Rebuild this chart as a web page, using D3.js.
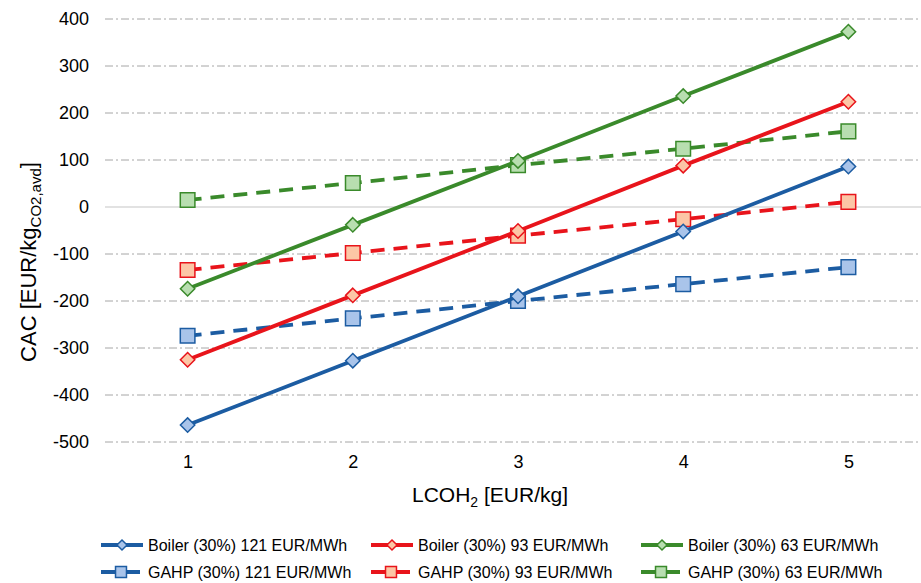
<!DOCTYPE html>
<html><head><meta charset="utf-8">
<script src="https://cdn.jsdelivr.net/npm/d3@7"></script>
<style>body{margin:0;background:#fff;} svg{display:block;font-family:"Liberation Sans",Arial,sans-serif;}</style>
</head><body>
<svg id="c" width="921" height="583"></svg>
<script>
const xValues = [1, 2, 3, 4, 5];
const yTicks = [400, 300, 200, 100, 0, -100, -200, -300, -400, -500];
const seriesNames = ["Boiler (30%) 121 EUR/MWh","Boiler (30%) 93 EUR/MWh","Boiler (30%) 63 EUR/MWh",
                     "GAHP (30%) 121 EUR/MWh","GAHP (30%) 93 EUR/MWh","GAHP (30%) 63 EUR/MWh"];
const boiler121 = [-464, -327, -190, -52, 86];
const boiler93  = [-325, -188, -51, 88, 224];
const boiler63  = [-174, -38, 98, 236, 373];
const gahp121   = [-274, -237, -200, -164, -128];
const gahp93    = [-134, -98, -61, -26, 11];
const gahp63    = [15, 51, 89, 124, 161];
const seriesValues = [boiler121, boiler93, boiler63, gahp121, gahp93, gahp63];
const lineColors = ["#1c5ca2", "#e8141b", "#3a8a2b"];
const fillColors = ["#a9c4ea", "#fcc6a6", "#b8deb0"];

const svg = d3.select("#c");
const x = d3.scaleLinear().domain([0.5, 5.5]).range([105, 931]);
const y = d3.scaleLinear().domain([-500, 400]).range([442, 19]);

// gridlines
const grid = svg.append("g");
yTicks.forEach(t => {
  grid.append("line").attr("x1", 105).attr("x2", 921).attr("y1", y(t)).attr("y2", y(t))
    .attr("stroke", t === 0 ? "#d9d9d9" : "#a6a6a6")
    .attr("stroke-width", t === 0 ? 1.5 : 1)
    .attr("stroke-dasharray", t === 0 ? null : "8,3,2,3");
});

// y axis labels
const yAxis = d3.axisLeft(y).tickValues(yTicks).tickSize(0).tickPadding(0).tickFormat(d => String(d));
const ya = svg.append("g").attr("transform", "translate(89,0)").call(yAxis);
ya.select(".domain").remove();
ya.selectAll("text").attr("font-size", 18).attr("fill", "#000").attr("font-family", "Liberation Sans, Arial, sans-serif");

// x axis labels
const xAxis = d3.axisBottom(x).tickValues(xValues).tickSize(0).tickPadding(0).tickFormat(d => String(d));
const xa = svg.append("g").attr("transform", "translate(0,455)").call(xAxis);
xa.select(".domain").remove();
xa.selectAll("text").attr("font-size", 18).attr("fill", "#000").attr("font-family", "Liberation Sans, Arial, sans-serif");

// axis titles
const xt = svg.append("text").attr("x", 490).attr("y", 502).attr("text-anchor", "middle")
  .attr("font-size", 21).attr("fill", "#000");
xt.append("tspan").text("LCOH");
xt.append("tspan").attr("font-size", 14).attr("dy", 5).text("2");
xt.append("tspan").attr("dy", -5).text(" [EUR/kg]");

const yt = svg.append("text").attr("transform", "translate(36,262) rotate(-90)").attr("text-anchor", "middle")
  .attr("font-size", 22).attr("fill", "#000");
yt.append("tspan").text("CAC [EUR/kg");
yt.append("tspan").attr("font-size", 15).attr("dy", 5).text("CO2,avd");
yt.append("tspan").attr("dy", -5).text("]");

const line = d3.line().x((d, i) => x(xValues[i])).y(d => y(d));
const diamond = (cx, cy, r) => `M${cx},${cy - r}L${cx + r},${cy}L${cx},${cy + r}L${cx - r},${cy}Z`;
const square = (cx, cy, h) => `M${cx - h},${cy - h}H${cx + h}V${cy + h}H${cx - h}Z`;

function drawMarker(g, kind, cx, cy, ci, scale) {
  const s = scale || 1;
  g.append("path").attr("d", kind === 0 ? diamond(cx, cy, 7.2 * s) : square(cx, cy, 7.3 * s))
    .attr("fill", fillColors[ci]).attr("stroke", lineColors[ci]).attr("stroke-width", 1.5);
}

const order = [3, 4, 5, 0, 1, 2];
order.forEach(si => {
  const ci = si % 3, kind = si < 3 ? 0 : 1;
  const g = svg.append("g");
  g.append("path").datum(seriesValues[si]).attr("d", line).attr("fill", "none")
    .attr("stroke", lineColors[ci]).attr("stroke-width", 3.8)
    .attr("stroke-dasharray", kind === 1 ? "14,9" : null);
  seriesValues[si].forEach((v, i) => drawMarker(g, kind, x(xValues[i]), y(v), ci));
});

// legend
const legX = [101, 371, 641];
const legY = [545, 572];
seriesNames.forEach((name, si) => {
  const ci = si % 3, kind = si < 3 ? 0 : 1;
  const lx = legX[ci], ly = legY[kind];
  const g = svg.append("g");
  g.append("line").attr("x1", lx).attr("x2", lx + (kind === 0 ? 42 : 39)).attr("y1", ly).attr("y2", ly)
    .attr("stroke", lineColors[ci]).attr("stroke-width", 3.8);
  if (kind === 0) drawMarker(g, 0, lx + 21, ly, ci, 0.7);
  else drawMarker(g, 1, lx + 20, ly, ci, 0.75);
  g.append("text").attr("x", lx + 47).attr("y", ly + 6).attr("font-size", 16).attr("fill", "#000").text(name);
});
</script>
</body></html>
